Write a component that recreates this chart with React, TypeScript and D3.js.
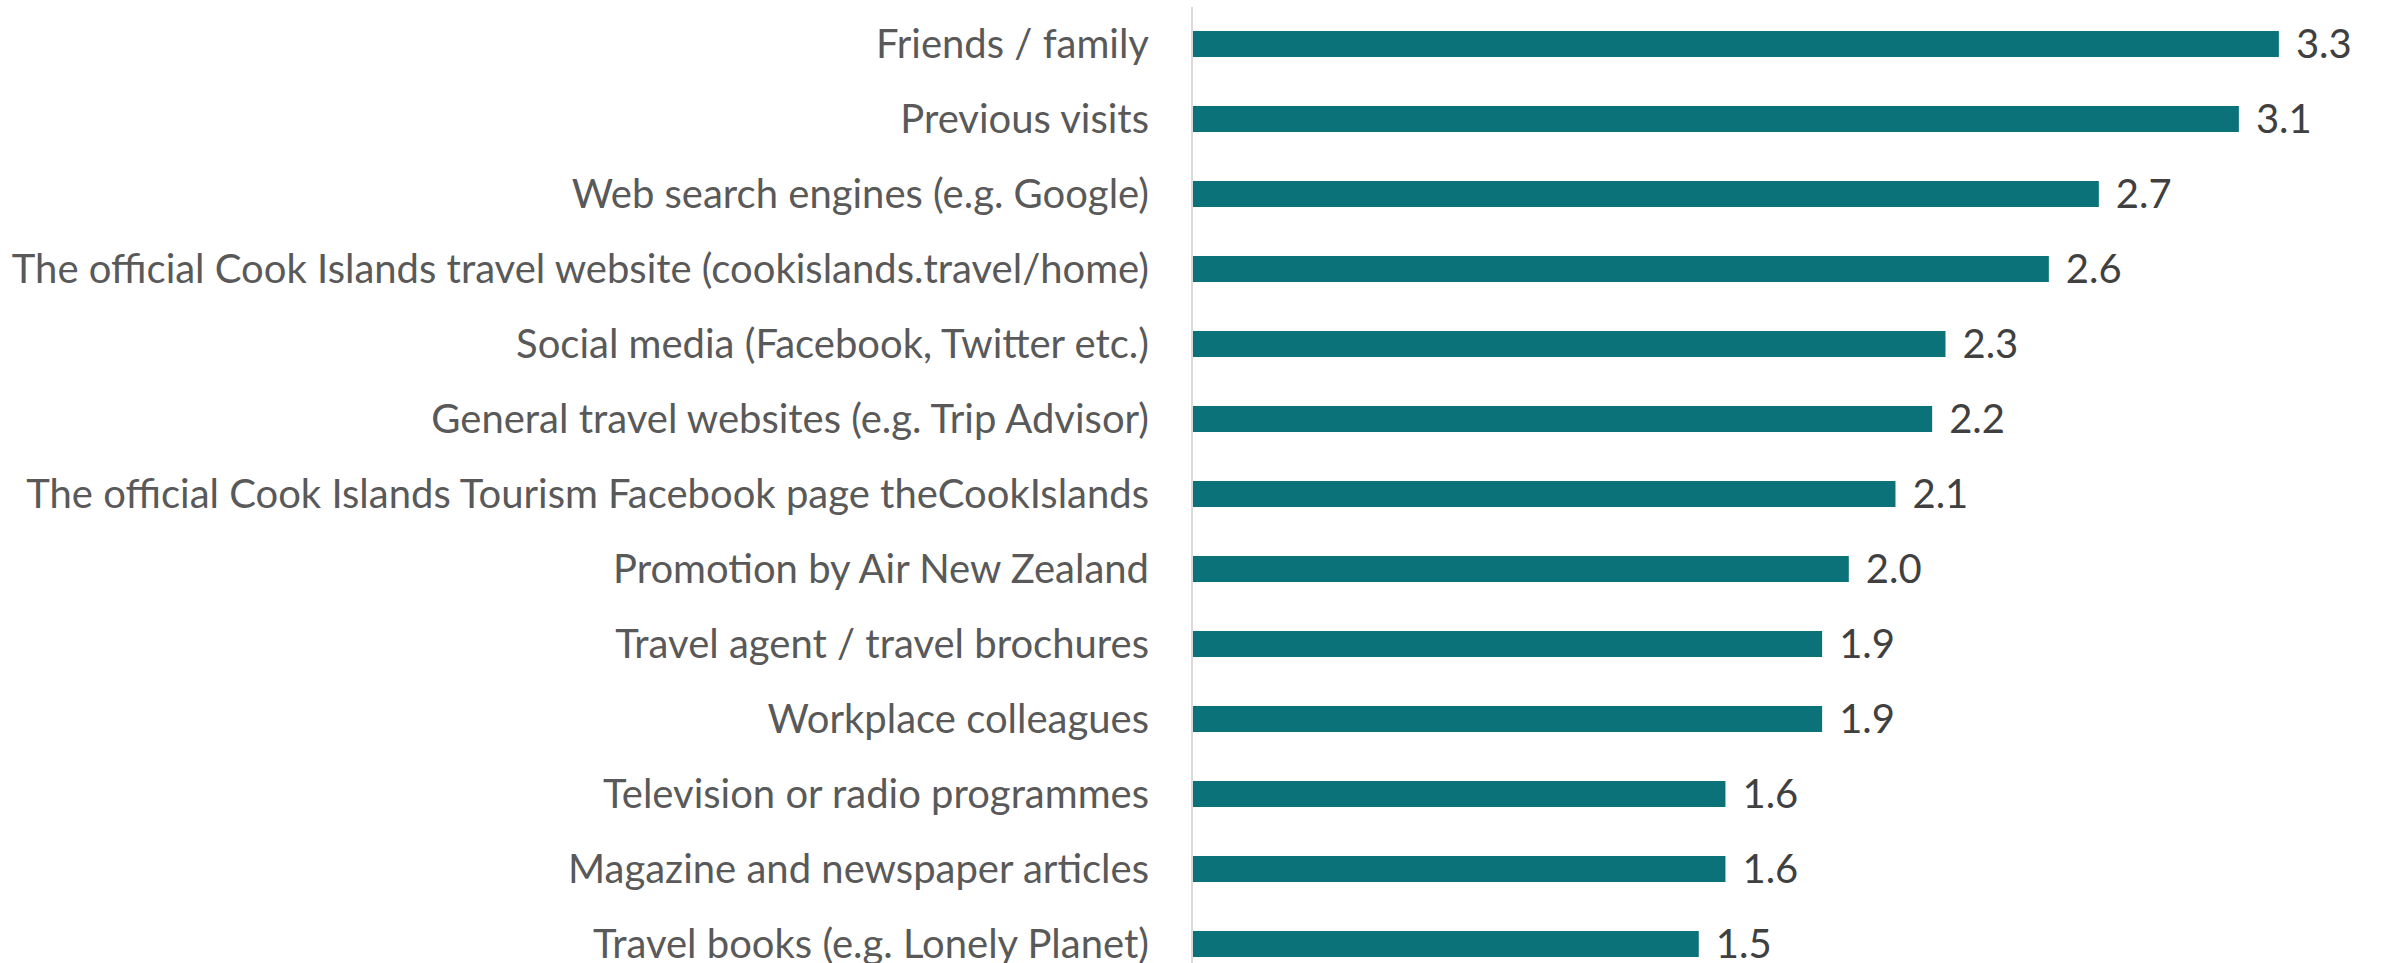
import React from 'react';
import * as d3 from 'd3';

const categories = [
  'Friends / family',
  'Previous visits',
  'Web search engines (e.g. Google)',
  'The official Cook Islands travel website (cookislands.travel/home)',
  'Social media (Facebook, Twitter etc.)',
  'General travel websites (e.g. Trip Advisor)',
  'The official Cook Islands Tourism Facebook page theCookIslands',
  'Promotion by Air New Zealand',
  'Travel agent / travel brochures',
  'Workplace colleagues',
  'Television or radio programmes',
  'Magazine and newspaper articles',
  'Travel books (e.g. Lonely Planet)',
];

const values = [3.26, 3.14, 2.72, 2.57, 2.26, 2.22, 2.11, 1.97, 1.89, 1.89, 1.6, 1.6, 1.52];

const width = 2387;
const height = 963;
const axisX = 1192;
const barColor = '#0c7279';
const font = 'Lato, "Open Sans", sans-serif';

export default function App() {
  const x = d3.scaleLinear().domain([0, 3.5]).range([axisX, axisX + 333.4 * 3.5]);
  const y = d3.scaleBand<string>()
    .domain(categories)
    .range([6.5, 981.5])
    .paddingInner(0.653)
    .paddingOuter(0.3265);
  const fmt = d3.format('.1f');

  return (
    <svg width={width} height={height}
      style={{ position: 'absolute', left: 0, top: 0, background: '#fff' }}
      fontFamily={font}>
      <line x1={axisX} x2={axisX} y1={7} y2={height} stroke="#d9d9d9" strokeWidth={2} />
      {categories.map((c, i) => {
        const yy = y(c) as number;
        const cy = yy + y.bandwidth() / 2;
        return (
          <g key={c}>
            <rect x={x(0) + 1} y={yy} width={x(values[i]) - x(0) - 1} height={y.bandwidth()} fill={barColor} />
            <text x={1149} y={cy} dy="0.35em" textAnchor="end" fontSize={40} fill="#595959">{c}</text>
            <text x={x(values[i]) + 17} y={cy} dy="0.36em" fontSize={40} fill="#404040">{fmt(values[i])}</text>
          </g>
        );
      })}
    </svg>
  );
}
